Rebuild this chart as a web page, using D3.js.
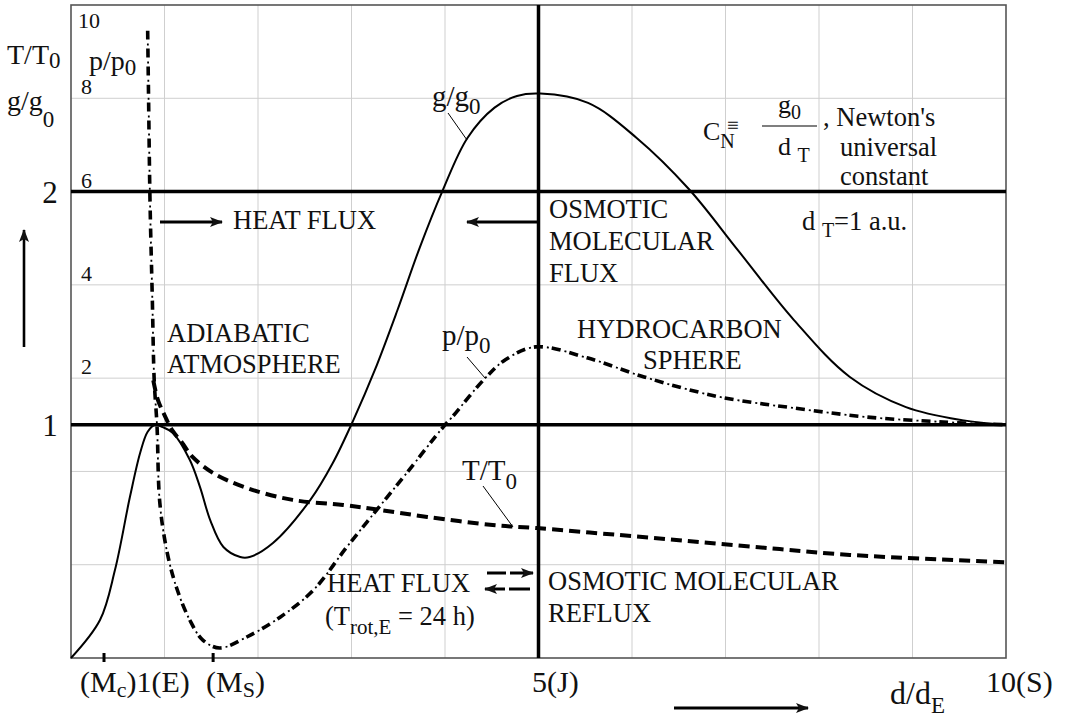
<!DOCTYPE html>
<html><head><meta charset="utf-8">
<script src="https://cdn.jsdelivr.net/npm/d3@7/dist/d3.min.js"></script>
<style>
body{margin:0;background:#fff;}
</style></head>
<body>
<svg id="c" width="1075" height="720" font-family="Liberation Serif"></svg>
<script>
// ---- data (x in grid units of d/d_E, y in T/T0 , g/g0 units) ----
const gX = [0,0.31,0.47,0.63,0.74,0.82,0.90,0.98,1.09,1.27,1.38,1.49,1.63,1.81,1.91,2.16,2.56,2.80,3.02,3.25,3.49,3.73,3.97,4.24,4.53,4.77,5.02,5.53,6.05,6.61,7.13,7.73,8.33,8.93,9.53,10];
const gY = [0,0.163,0.377,0.69,0.88,0.97,1.0,0.99,0.965,0.85,0.733,0.59,0.476,0.433,0.433,0.493,0.678,0.836,1.02,1.235,1.49,1.76,2.0,2.23,2.36,2.41,2.42,2.38,2.23,2.01,1.75,1.45,1.205,1.076,1.02,1.0];

const pX = [0.82,0.83,0.845,0.87,0.89,0.92,0.95,1.03,1.13,1.27,1.41,1.59,1.88,2.24,2.59,2.95,3.27,3.59,3.98,4.07,4.43,4.65,4.97,5.53,6.13,6.93,7.73,8.52,9.33,10];
const pY = [2.69,2.39,1.96,1.535,1.19,0.995,0.665,0.45,0.30,0.163,0.077,0.043,0.09,0.176,0.29,0.476,0.635,0.793,0.99,1.03,1.20,1.28,1.334,1.286,1.205,1.12,1.072,1.033,1.012,1.0];

const tX = [0.88,0.93,1.01,1.08,1.19,1.30,1.52,1.88,2.37,2.91,3.30,3.81,4.51,4.98,5.87,6.73,7.58,8.33,10];
const tY = [1.19,1.106,1.033,0.978,0.922,0.862,0.793,0.729,0.678,0.656,0.635,0.605,0.570,0.557,0.527,0.497,0.467,0.442,0.41];

const gridX = [1,2,3,4,5,6,7,8,9];
const gridY = [0.4,0.8,1.2,1.6,2.0,2.4];
const refLevels = [1,2];
const refX = [5];
const leftTicks = [1,2];
const pTicks = [2,4,6,8,10];
const bottomTicks = [0.353,1.52];

// ---- layout ----
const SERIF = "Liberation Serif";
const svg = d3.select("#c");
const x = d3.scaleLinear().domain([0,10]).range([71,1006]);
const y = d3.scaleLinear().domain([0,2.8]).range([658,5]);
const py = d3.scaleLinear().domain([0,10]).range([y(0.8), y(2.8)]);

const defs = svg.append("defs");
defs.append("marker").attr("id","ah").attr("viewBox","0 0 13 10")
  .attr("refX",12).attr("refY",5).attr("markerWidth",13).attr("markerHeight",10)
  .attr("markerUnits","userSpaceOnUse").attr("orient","auto")
  .append("path").attr("d","M0,0 L13,5 L0,10 L3,5 Z").attr("fill","#111");

// grid
svg.append("g").selectAll("line").data(gridX).join("line")
  .attr("x1",d=>x(d)).attr("x2",d=>x(d)).attr("y1",y(2.8)).attr("y2",y(0))
  .attr("stroke","#cfcfcf").attr("stroke-width",1);
svg.append("g").selectAll("line").data(gridY).join("line")
  .attr("y1",d=>y(d)).attr("y2",d=>y(d)).attr("x1",x(0)).attr("x2",x(10))
  .attr("stroke","#cfcfcf").attr("stroke-width",1);

// frame
svg.append("rect").attr("x",x(0)).attr("y",y(2.8)).attr("width",x(10)-x(0)).attr("height",y(0)-y(2.8))
  .attr("fill","none").attr("stroke","#555").attr("stroke-width",1.6);

// reference thick lines
svg.append("g").selectAll("line").data(refLevels).join("line")
  .attr("y1",d=>y(d)).attr("y2",d=>y(d)).attr("x1",x(0)).attr("x2",x(10))
  .attr("stroke","#000").attr("stroke-width",3.5);
svg.append("g").selectAll("line").data(refX).join("line")
  .attr("x1",d=>x(d)).attr("x2",d=>x(d)).attr("y1",y(2.8)).attr("y2",y(0))
  .attr("stroke","#000").attr("stroke-width",3.5);

// bottom ticks
svg.append("g").selectAll("line").data(bottomTicks).join("line")
  .attr("x1",d=>x(d)).attr("x2",d=>x(d)).attr("y1",y(0)-5).attr("y2",y(0)+4)
  .attr("stroke","#000").attr("stroke-width",3);

// curves
const line = (xs,ys)=>d3.line().x((d,i)=>x(xs[i])).y((d,i)=>y(ys[i])).curve(d3.curveCatmullRom.alpha(0.5))(xs);
svg.append("path").attr("d",line(gX,gY)).attr("fill","none").attr("stroke","#000").attr("stroke-width",2);
svg.append("path").attr("d",line(tX,tY)).attr("fill","none").attr("stroke","#000").attr("stroke-width",4)
  .attr("stroke-dasharray","11 6");
svg.append("path").attr("d",line(pX,pY)).attr("fill","none").attr("stroke","#000").attr("stroke-width",3.6)
  .attr("stroke-dasharray","9 9");
svg.append("path").attr("d",line(pX,pY)).attr("fill","none").attr("stroke","#000").attr("stroke-width",1.8)
  .attr("stroke-dasharray","2 16").attr("stroke-dashoffset",5);

// ---- text helpers ----
function txt(xp,yp,size,parts,anchor){
  const t = svg.append("text").attr("x",xp).attr("y",yp).attr("font-size",size)
    .attr("font-family",SERIF).attr("fill","#111")
    .attr("text-anchor",anchor||"start");
  parts.forEach(p=>{
    if(typeof p==="string"){ t.append("tspan").text(p); }
    else { t.append("tspan").attr("font-size",p.s).attr("dy",p.dy).text(p.t); }
  });
  return t;
}

// left outside labels
svg.append("g").selectAll("text").data(leftTicks).join("text")
  .attr("font-family",SERIF).attr("fill","#111")
  .attr("x",50).attr("y",d=>y(d)+11).attr("text-anchor","middle").attr("font-size",31).text(d=>d);
// p/p0 inside labels
svg.append("g").selectAll("text").data(pTicks).join("text")
  .attr("font-family",SERIF).attr("fill","#111")
  .attr("x",d=>d===10?78:81).attr("y",d=>Math.max(py(d)-4,28)).attr("font-size",22).text(d=>d);

txt(7,64,28,["T/T",{t:"0",s:23,dy:4}]);
txt(7,110,28,["g/g",{t:"0",s:23,dy:17}]);
txt(89,70,28,["p/p",{t:"0",s:23,dy:5}]);

// up arrow
svg.append("line").attr("x1",24).attr("y1",347).attr("x2",24).attr("y2",230)
  .attr("stroke","#000").attr("stroke-width",2.6).attr("marker-end","url(#ah)");

// bottom labels
txt(80,692,30,["(M",{t:"c",s:22,dy:5},{t:")1(E)",s:30,dy:-5}]);
txt(206,692,30,["(M",{t:"S",s:22,dy:5},{t:")",s:30,dy:-5}]);
txt(532,692,30,["5(J)"]);
txt(986,692,30,["10(S)"]);
txt(890,704,32,["d/d",{t:"E",s:23,dy:9}]);
svg.append("line").attr("x1",674).attr("y1",708).attr("x2",808).attr("y2",708)
  .attr("stroke","#000").attr("stroke-width",3.2).attr("marker-end","url(#ah)");

// annotations
const F = 26.5;
txt(233,229,F,["HEAT FLUX"]);
svg.append("line").attr("x1",160).attr("y1",222).attr("x2",222).attr("y2",222)
  .attr("stroke","#000").attr("stroke-width",3).attr("marker-end","url(#ah)");
txt(549,218,F,["OSMOTIC"]);
txt(549,250,F,["MOLECULAR"]);
txt(549,282,F,["FLUX"]);
svg.append("line").attr("x1",537).attr("y1",222).attr("x2",467).attr("y2",222)
  .attr("stroke","#000").attr("stroke-width",3).attr("marker-end","url(#ah)");
txt(167,342,F,["ADIABATIC"]);
txt(167,373,F,["ATMOSPHERE"]);
txt(577,338,F,["HYDROCARBON"]);
txt(643,369,F,["SPHERE"]);

txt(432,106,29,["g/g",{t:"0",s:23,dy:8}]);
svg.append("line").attr("x1",448).attr("y1",113).attr("x2",467).attr("y2",140).attr("stroke","#000").attr("stroke-width",1);
txt(442,345,29,["p/p",{t:"0",s:23,dy:8}]);
svg.append("line").attr("x1",467).attr("y1",357).attr("x2",485).attr("y2",378).attr("stroke","#000").attr("stroke-width",1);
txt(462,480,29,["T/T",{t:"0",s:23,dy:9}]);
svg.append("line").attr("x1",483).attr("y1",486).attr("x2",513).attr("y2",527).attr("stroke","#000").attr("stroke-width",1);

txt(327,592,F,["HEAT FLUX"]);
txt(325,625,F,["(T",{t:"rot,E",s:21,dy:9},{t:" = 24 h)",s:F,dy:-9}]);
txt(548,590,F,["OSMOTIC MOLECULAR"]);
txt(548,622,F,["REFLUX"]);
svg.append("line").attr("x1",487).attr("y1",573).attr("x2",533).attr("y2",573)
  .attr("stroke","#000").attr("stroke-width",3.2).attr("stroke-dasharray","19 4 30").attr("marker-end","url(#ah)");
svg.append("line").attr("x1",530).attr("y1",589).attr("x2",485).attr("y2",589)
  .attr("stroke","#000").attr("stroke-width",3.2).attr("stroke-dasharray","21 4 30").attr("marker-end","url(#ah)");

// Newton's constant formula
txt(703,140,26,["C",{t:"N",s:20,dy:8}]);
svg.append("text").attr("font-family",SERIF).attr("x",727).attr("y",132).attr("font-size",21).text("\u2261");
svg.append("line").attr("x1",762).attr("x2",817).attr("y1",126).attr("y2",126).attr("stroke","#000").attr("stroke-width",1.2);
txt(778,113,26,["g",{t:"0",s:20,dy:6}]);
txt(778,155,26,["d ",{t:"T",s:20,dy:7}]);
txt(823,126,F,[", Newton's"]);
txt(840,156,F,["universal"]);
txt(840,185,F,["constant"]);
txt(802,230,F,["d ",{t:"T",s:20,dy:7},{t:"=1 a.u.",s:F,dy:-7}]);
</script>
</body></html>
